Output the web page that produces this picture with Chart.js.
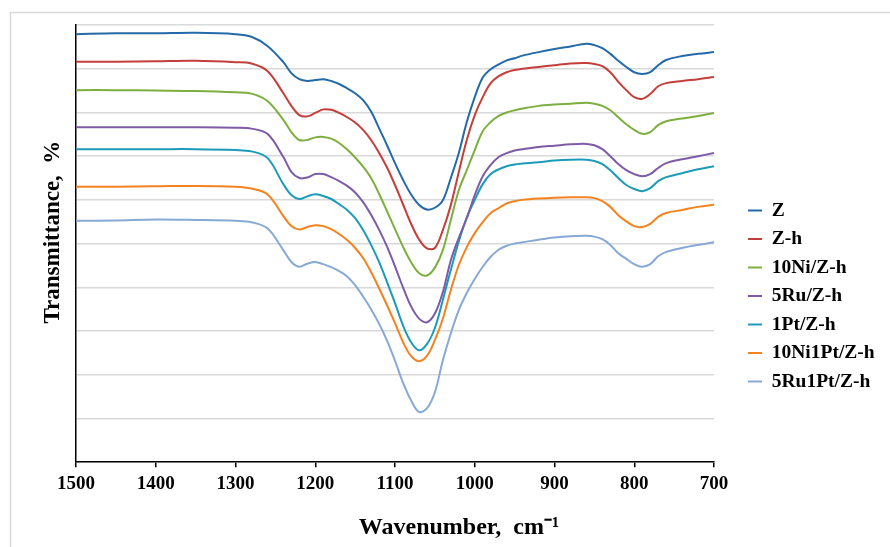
<!DOCTYPE html>
<html>
<head>
<meta charset="utf-8">
<script src="https://cdn.jsdelivr.net/npm/chart.js@4/dist/chart.umd.min.js"></script>
<style>
html,body{margin:0;padding:0;background:#fff;}
canvas{display:block;}
</style>
</head>
<body>
<canvas id="c" width="890" height="547"></canvas>
<script>
// ---- data ----
const wavenumbers = [1500,1450,1400,1350,1300,1280,1260,1240,1230,1220,1210,1200,1190,1180,1170,1160,1150,1140,1130,1120,1110,1100,1090,1080,1070,1060,1050,1040,1030,1020,1010,1000,990,980,970,960,950,940,920,900,880,860,850,840,830,820,810,800,790,780,770,760,740,720,700];
const xTickLabels = [1500,1400,1300,1200,1100,1000,900,800,700];
const seriesNames = ['Z','Z-h','10Ni/Z-h','5Ru/Z-h','1Pt/Z-h','10Ni1Pt/Z-h','5Ru1Pt/Z-h'];

const valuesZ = [9.79,9.81,9.81,9.82,9.79, 9.73,9.52,9.15,8.90,8.76,8.72,8.74,8.76,8.72,8.65, 8.55,8.44,8.28,8.02,7.64,7.25,6.84,6.46,6.13,5.89, 5.78,5.82,5.99,6.50,7.07,7.78,8.35,8.80,8.99,9.10, 9.19,9.24,9.30,9.38,9.45,9.51,9.57,9.54,9.47,9.34, 9.18,9.04,8.92,8.88,8.92,9.08,9.20,9.29,9.34,9.38];
const valuesZh = [9.16,9.16,9.17,9.18,9.15, 9.12,8.95,8.44,8.15,7.94,7.91,7.99,8.07,8.06,7.99, 7.89,7.77,7.60,7.37,7.08,6.74,6.34,5.90,5.46,5.10, 4.89,4.90,5.31,5.88,6.64,7.37,7.94,8.35,8.67,8.83, 8.92,8.97,9.00,9.04,9.08,9.12,9.13,9.11,9.06,8.92, 8.70,8.51,8.35,8.31,8.42,8.60,8.67,8.72,8.76,8.81];
const values10Ni = [8.51,8.51,8.50,8.49,8.46, 8.43,8.26,7.83,7.55,7.37,7.37,7.43,7.44,7.40,7.30, 7.15,6.97,6.76,6.50,6.14,5.74,5.33,4.93,4.58,4.33, 4.27,4.45,4.85,5.54,6.22,6.68,7.14,7.57,7.78,7.92, 8.00,8.05,8.09,8.15,8.18,8.20,8.22,8.20,8.15,8.05, 7.89,7.73,7.60,7.51,7.55,7.71,7.80,7.86,7.92,7.99];
const values5Ru = [7.66,7.66,7.66,7.66,7.65, 7.63,7.51,6.98,6.64,6.50,6.51,6.59,6.59,6.52,6.43, 6.32,6.17,5.95,5.66,5.32,4.93,4.48,4.00,3.57,3.29, 3.20,3.40,3.89,4.62,5.13,5.58,6.11,6.54,6.80,6.98, 7.07,7.13,7.16,7.21,7.24,7.27,7.28,7.25,7.16,7.00, 6.82,6.68,6.59,6.54,6.59,6.73,6.84,6.93,7.00,7.07];
const values1Pt = [7.16,7.16,7.16,7.16,7.14, 7.11,6.96,6.36,6.11,6.02,6.08,6.13,6.09,6.02,5.90, 5.77,5.58,5.31,4.97,4.58,4.12,3.64,3.13,2.75,2.56, 2.70,3.07,3.71,4.40,5.05,5.60,6.00,6.36,6.59,6.70, 6.77,6.81,6.83,6.86,6.90,6.92,6.92,6.89,6.82,6.68, 6.50,6.34,6.25,6.20,6.27,6.43,6.52,6.61,6.70,6.77];
const values10Ni1Pt = [6.30,6.30,6.31,6.32,6.30, 6.26,6.13,5.63,5.40,5.32,5.38,5.42,5.40,5.33,5.22, 5.08,4.90,4.67,4.35,3.98,3.59,3.18,2.75,2.43,2.31, 2.43,2.79,3.28,3.94,4.51,4.92,5.24,5.49,5.70,5.81, 5.92,5.97,6.00,6.03,6.05,6.06,6.06,6.04,5.97,5.84, 5.65,5.51,5.40,5.38,5.45,5.61,5.70,5.77,5.84,5.89];
const values5Ru1Pt = [5.52,5.53,5.55,5.54,5.52, 5.49,5.35,4.85,4.58,4.47,4.54,4.58,4.53,4.46,4.37, 4.25,4.05,3.79,3.50,3.17,2.78,2.32,1.82,1.42,1.15, 1.23,1.60,2.33,2.95,3.48,3.87,4.19,4.47,4.70,4.86, 4.95,5.00,5.03,5.09,5.14,5.17,5.18,5.16,5.10,4.97, 4.78,4.65,4.53,4.47,4.53,4.71,4.81,4.90,4.97,5.03];

const seriesColors = ['#2469A8','#C43E3A','#7DAE40','#7D5BA6','#1C9BB8','#F4821F','#87A9D6'];
const allValues = [valuesZ, valuesZh, values10Ni, values5Ru, values1Pt, values10Ni1Pt, values5Ru1Pt];

const FONT = "'Liberation Serif','Times New Roman',serif";

const datasets = seriesNames.map((name, i) => ({
  label: name,
  data: wavenumbers.map((w, j) => ({x: w, y: allValues[i][j]})),
  borderColor: seriesColors[i],
  backgroundColor: seriesColors[i],
  borderWidth: 2,
  pointRadius: 0,
  fill: false,
  tension: 0.35
}));

const framePlugin = {
  id: 'frame',
  beforeDraw(chart) {
    const ctx = chart.ctx;
    ctx.save();
    ctx.fillStyle = '#fff';
    ctx.fillRect(0, 0, chart.width, chart.height);
    ctx.strokeStyle = '#d9d9d9';
    ctx.lineWidth = 1.5;
    ctx.beginPath();
    ctx.moveTo(10.5, chart.height);
    ctx.lineTo(10.5, 12.5);
    ctx.lineTo(chart.width, 12.5);
    ctx.stroke();
    ctx.restore();
  }
};

new Chart(document.getElementById('c'), {
  type: 'line',
  data: { datasets },
  plugins: [framePlugin],
  options: {
    responsive: false,
    animation: false,
    devicePixelRatio: 1,
    layout: { padding: { left: 39, right: 11, top: 25, bottom: 5 } },
    scales: {
      x: {
        type: 'linear', reverse: true, min: 700, max: 1500,
        afterBuildTicks: s => { s.ticks = xTickLabels.map(v => ({ value: v })); },
        grid: { display: true, drawOnChartArea: false, drawTicks: true, tickLength: 5, color: '#000', lineWidth: 1.5 },
        border: { display: true, color: '#000', width: 1.5 },
        ticks: { color: '#000', font: { family: FONT, size: 19, weight: 'bold' }, padding: 5, maxRotation: 0, autoSkip: false, callback: v => String(v) },
        afterFit: s => { s.height = 51; }
      },
      y: {
        min: 0, max: 10,
        ticks: { display: false, stepSize: 1 },
        grid: { color: '#d9d9d9', lineWidth: 1.5, drawTicks: false },
        border: { display: true, color: '#000', width: 1.5 },
        title: { display: true, text: '    Transmittance,  %', color: '#000', font: { family: FONT, size: 23, weight: 'bold' }, padding: { top: 0, bottom: 0 } },
        afterFit: s => { s.width = 37; }
      },
      yR: {
        position: 'right', display: true, min: 0, max: 10,
        grid: { display: false, drawTicks: false }, border: { display: false },
        ticks: { display: false },
        afterFit: s => { s.width = 25; }
      }
    },
    plugins: {
      legend: {
        position: 'right', align: 'center',
        title: { display: true, text: ' ', font: { size: 20, lineHeight: 1.25 }, padding: 0 },
        labels: {
          usePointStyle: true, pointStyle: 'line', pointStyleWidth: 14,
          color: '#000', padding: 9,
          font: { family: FONT, size: 19.5, weight: 'bold' }
        }
      },
      title: {
        display: true, position: 'bottom', text: 'Wavenumber,  cm\u207B\u00B9', color: '#000',
        font: { family: FONT, size: 24, weight: 'bold', lineHeight: 1.2 },
        padding: { top: 0, bottom: 0 }
      },
      tooltip: { enabled: false }
    }
  }
});
</script>
</body>
</html>
